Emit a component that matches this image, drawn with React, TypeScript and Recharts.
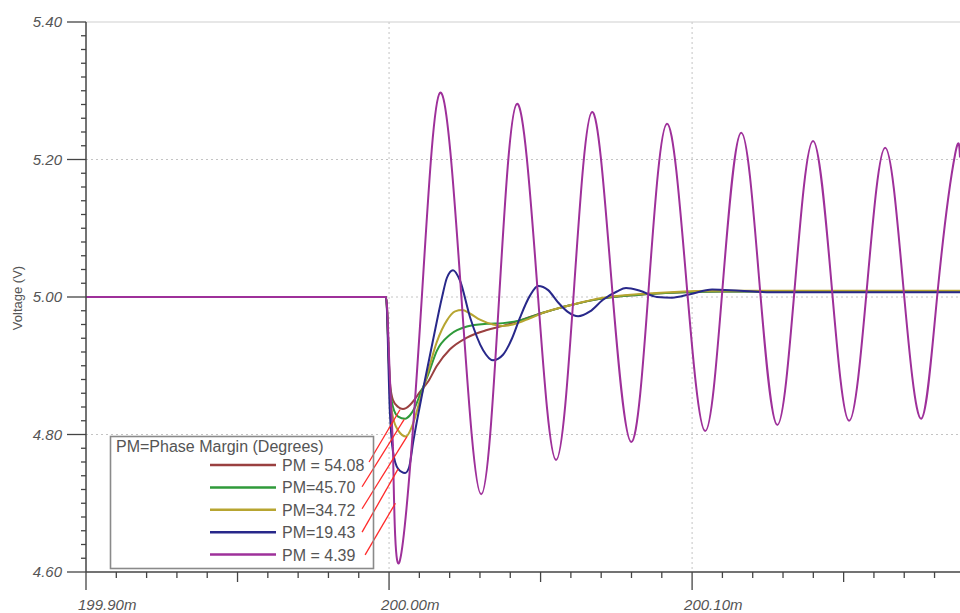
import React from 'react';
import { LineChart, Line, XAxis, YAxis, CartesianGrid, ReferenceLine } from 'recharts';

const FONT = '"Liberation Sans", Arial, Helvetica, sans-serif';

// ---- axes ----
const timeDomain = [199.9, 200.1884];
const voltDomain = [4.6, 5.4];
const timeTicks = [
  199.90, 199.91, 199.92, 199.93, 199.94, 199.95, 199.96, 199.97, 199.98, 199.99,
  200.00, 200.01, 200.02, 200.03, 200.04, 200.05, 200.06, 200.07, 200.08, 200.09,
  200.10, 200.11, 200.12, 200.13, 200.14, 200.15, 200.16, 200.17, 200.18,
];
const majorTimeTicks = [199.9, 200.0, 200.1];
const midTimeTicks = [199.95, 200.05, 200.15];
const timeTickLabels = ['199.90m', '200.00m', '200.10m'];
const voltTicks = [
  4.60, 4.62, 4.64, 4.66, 4.68, 4.70, 4.72, 4.74, 4.76, 4.78,
  4.80, 4.82, 4.84, 4.86, 4.88, 4.90, 4.92, 4.94, 4.96, 4.98,
  5.00, 5.02, 5.04, 5.06, 5.08, 5.10, 5.12, 5.14, 5.16, 5.18,
  5.20, 5.22, 5.24, 5.26, 5.28, 5.30, 5.32, 5.34, 5.36, 5.38, 5.40,
];
const majorVoltTicks = [4.6, 4.8, 5.0, 5.2, 5.4];
const voltTickLabels = ['4.60', '4.80', '5.00', '5.20', '5.40'];
const gridVolts = [4.8, 5.0, 5.2];
const gridTimes = [200.0, 200.1];

// ---- legend ----
const legendTitle = 'PM=Phase Margin (Degrees)';
const seriesNames = ['PM = 54.08', 'PM=45.70', 'PM=34.72', 'PM=19.43', 'PM = 4.39'];
const seriesColors = ['#9a4040', '#2f9a3a', '#b7a531', '#28288a', '#9e309a'];

// ---- series (time in ms, voltage in V) ----
const pm5408: [number, number][] = [
  [199.900, 5.000], [199.999, 5.000], [200.0003, 4.875], [200.0013, 4.850], [200.0030, 4.840],
  [200.0046, 4.837], [200.0069, 4.843], [200.0086, 4.852], [200.0102, 4.862], [200.0129, 4.877],
  [200.0158, 4.900], [200.0201, 4.924], [200.0257, 4.941], [200.0323, 4.952], [200.0376, 4.958],
  [200.0432, 4.966], [200.0508, 4.977], [200.0597, 4.988], [200.0706, 4.998], [200.0818, 5.003],
  [200.0927, 5.006], [200.1092, 5.008], [200.1884, 5.008],
];
const pm4570: [number, number][] = [
  [199.900, 5.000], [199.999, 5.000], [200.0003, 4.870], [200.0013, 4.840], [200.0030, 4.826],
  [200.0053, 4.823], [200.0069, 4.828], [200.0086, 4.840], [200.0102, 4.858], [200.0129, 4.887],
  [200.0158, 4.922], [200.0201, 4.945], [200.0257, 4.957], [200.0323, 4.961], [200.0376, 4.962],
  [200.0432, 4.966], [200.0508, 4.977], [200.0597, 4.988], [200.0706, 4.998], [200.0818, 5.003],
  [200.0927, 5.006], [200.1092, 5.008], [200.1884, 5.008],
];
const pm3472: [number, number][] = [
  [199.900, 5.000], [199.999, 5.000], [200.0003, 4.860], [200.0013, 4.825], [200.0030, 4.806],
  [200.0056, 4.797], [200.0076, 4.812], [200.0102, 4.850], [200.0129, 4.892], [200.0158, 4.935],
  [200.0191, 4.966], [200.0218, 4.979], [200.0241, 4.981], [200.0267, 4.976], [200.0300, 4.967],
  [200.0343, 4.960], [200.0376, 4.958], [200.0409, 4.960], [200.0465, 4.969], [200.0508, 4.977],
  [200.0597, 4.988], [200.0706, 4.999], [200.0818, 5.004], [200.0927, 5.007], [200.1092, 5.009],
  [200.1884, 5.009],
];
const pm1943: [number, number][] = [
  [199.900, 5.000], [199.999, 5.000], [200.0003, 4.830], [200.0013, 4.775], [200.0030, 4.750],
  [200.0053, 4.744], [200.0066, 4.752], [200.0080, 4.790], [200.0112, 4.865], [200.0145, 4.937],
  [200.0175, 5.000], [200.0191, 5.028], [200.0211, 5.039], [200.0234, 5.024], [200.0267, 4.971],
  [200.0310, 4.923], [200.0343, 4.908], [200.0376, 4.916], [200.0406, 4.940], [200.0432, 4.970],
  [200.0465, 5.002], [200.0492, 5.016], [200.0525, 5.010], [200.0558, 4.992], [200.0591, 4.978],
  [200.0624, 4.972], [200.0663, 4.979], [200.0706, 4.996], [200.0752, 5.008], [200.0782, 5.013],
  [200.0828, 5.009], [200.0884, 5.000], [200.0934, 4.999], [200.0993, 5.004], [200.1066, 5.011],
  [200.1158, 5.009], [200.1257, 5.007], [200.1884, 5.007],
];
const pm439Step: [number, number][] = [
  [199.900, 5.000], [199.999, 5.000], [200.0003, 4.880], [200.0013, 4.782],
];
const pm439Ring: [number, number][] = [
  [200.0013, 4.782], [200.0036, 4.617], [200.0102, 4.957], [200.0168, 5.297], [200.0238, 5.005],
  [200.0304, 4.713], [200.0363, 4.997], [200.0422, 5.281], [200.0488, 5.022], [200.0551, 4.763],
  [200.0611, 5.016], [200.0670, 5.269], [200.0733, 5.029], [200.0799, 4.789], [200.0858, 5.020],
  [200.0917, 5.252], [200.0980, 5.029], [200.1043, 4.805], [200.1102, 5.022], [200.1162, 5.239],
  [200.1221, 5.027], [200.1281, 4.814], [200.1340, 5.021], [200.1399, 5.227], [200.1459, 5.024],
  [200.1518, 4.820], [200.1578, 5.019], [200.1637, 5.217], [200.1696, 5.020], [200.1756, 4.823],
  [200.1812, 5.016], [200.1868, 5.208], [200.1884, 5.203],
];

// ---- legend callout pointers (from label end to curve) ----
const calloutFrom: [number, number][] = [
  [199.9934, 4.760], [199.9911, 4.724], [199.9911, 4.692], [199.9911, 4.658], [199.9921, 4.625],
];
const calloutTo: [number, number][] = [
  [200.0036, 4.836], [200.0050, 4.822], [200.0059, 4.797], [200.0030, 4.750], [200.0021, 4.700],
];

const toRows = (pts: [number, number][]) => pts.map(([t, v]) => ({ t, v }));

const near = (a: number, b: number) => Math.abs(a - b) < 1e-6;

function TimeTick(props: any) {
  const { x, y, payload } = props;
  const val = payload.value as number;
  const mi = majorTimeTicks.findIndex((m) => near(m, val));
  const isMid = midTimeTicks.some((m) => near(m, val));
  const len = mi >= 0 ? 18 : isMid ? 10 : 6;
  return (
    <g>
      <line x1={x} x2={x} y1={y} y2={y + len} stroke="#444" strokeWidth={1.3} />
      {mi >= 0 && (
        <text x={x - 8} y={y + 38} textAnchor="start" fontSize={15} fontStyle="italic" fill="#555" fontFamily={FONT}>
          {timeTickLabels[mi]}
        </text>
      )}
    </g>
  );
}

function VoltTick(props: any) {
  const { x, y, payload } = props;
  const val = payload.value as number;
  const mi = majorVoltTicks.findIndex((m) => near(m, val));
  const len = mi >= 0 ? 19 : 5;
  return (
    <g>
      <line x1={x - len} x2={x} y1={y} y2={y} stroke="#444" strokeWidth={1.3} />
      {mi >= 0 && (
        <text x={x - 24} y={y + 5} textAnchor="end" fontSize={15} fontStyle="italic" fill="#555" fontFamily={FONT}>
          {voltTickLabels[mi]}
        </text>
      )}
    </g>
  );
}

const curves = [
  { pts: pm5408, color: seriesColors[0], type: 'monotone' },
  { pts: pm4570, color: seriesColors[1], type: 'monotone' },
  { pts: pm3472, color: seriesColors[2], type: 'monotone' },
  { pts: pm1943, color: seriesColors[3], type: 'monotone' },
  { pts: pm439Step, color: seriesColors[4], type: 'monotone' },
  { pts: pm439Ring, color: seriesColors[4], type: 'natural' },
];

export default function App() {
  return (
    <div style={{ position: 'absolute', left: 0, top: 0, width: 960, height: 613, background: '#fff', fontFamily: FONT, overflow: 'hidden' }}>
      <LineChart width={960} height={613} margin={{ top: 22, right: 0, bottom: 0, left: 0 }}>
        <CartesianGrid
          horizontalValues={gridVolts}
          verticalValues={gridTimes}
          stroke="#c4c4c4"
          strokeDasharray="2 3"
        />
        <ReferenceLine y={5.4} stroke="#cfcfcf" strokeWidth={1.2} />
        <XAxis
          type="number"
          dataKey="t"
          domain={timeDomain}
          allowDataOverflow
          ticks={timeTicks}
          interval={0}
          tickSize={0}
          tickMargin={0}
          tickLine={false}
          axisLine={{ stroke: '#444', strokeWidth: 1.5 }}
          tick={(p: any) => <TimeTick {...p} />}
          height={41}
        />
        <YAxis
          type="number"
          dataKey="v"
          domain={voltDomain}
          allowDataOverflow
          ticks={voltTicks}
          interval={0}
          width={86}
          tickSize={0}
          tickMargin={0}
          tickLine={false}
          axisLine={{ stroke: '#444', strokeWidth: 1.5 }}
          tick={(p: any) => <VoltTick {...p} />}
        />
        {curves.map((c, i) => (
          <Line
            key={i}
            data={toRows(c.pts)}
            dataKey="v"
            type={c.type as any}
            stroke={c.color}
            strokeWidth={2}
            dot={false}
            activeDot={false}
            isAnimationActive={false}
          />
        ))}
        {calloutFrom.map((f, i) => (
          <ReferenceLine
            key={'c' + i}
            segment={[{ x: f[0], y: f[1] }, { x: calloutTo[i][0], y: calloutTo[i][1] }]}
            stroke="#ff2a2a"
            strokeWidth={1.3}
          />
        ))}
      </LineChart>
      <svg width={960} height={613} style={{ position: 'absolute', left: 0, top: 0, pointerEvents: 'none' }}>
        <text transform="translate(22,298) rotate(-90)" textAnchor="middle" fontSize={13} fill="#555" fontFamily={FONT}>
          Voltage (V)
        </text>
        <rect x={110.5} y={436.5} width={263} height={132} fill="none" stroke="#8a8a8a" strokeWidth={1.6} />
        <text x={116} y={452} fontSize={16} fill="#555" fontFamily={FONT}>
          {legendTitle}
        </text>
        {seriesNames.map((n, i) => (
          <g key={n}>
            <line x1={210} x2={276} y1={465 + i * 22.4} y2={465 + i * 22.4} stroke={seriesColors[i]} strokeWidth={2.5} />
            <text x={282} y={471 + i * 22.4} fontSize={16} fill="#555" fontFamily={FONT}>
              {n}
            </text>
          </g>
        ))}
      </svg>
    </div>
  );
}
